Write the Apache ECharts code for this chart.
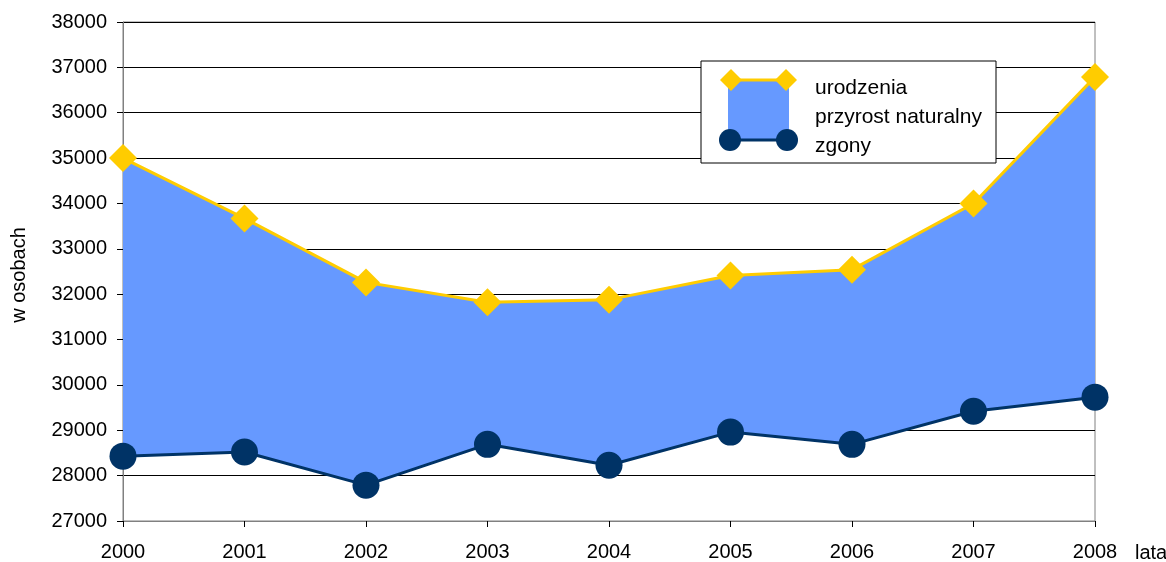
<!DOCTYPE html>
<html>
<head>
<meta charset="utf-8">
<script src="https://cdn.jsdelivr.net/npm/echarts@6/dist/echarts.min.js"></script>
<style>html,body{margin:0;padding:0;background:#fff}#c{width:1166px;height:562px}</style>
</head>
<body>
<div id="c"></div>
<script>
var years = ['2000','2001','2002','2003','2004','2005','2006','2007','2008'];
var urodzenia = [35000, 33670, 32260, 31820, 31880, 32410, 32540, 34000, 36790];
var zgony = [28430, 28520, 27790, 28690, 28230, 28960, 28690, 29420, 29730];
var yTicks = { min: 27000, max: 38000, interval: 1000 };
var names = { births: 'urodzenia', growth: 'przyrost naturalny', deaths: 'zgony', yName: 'w osobach', xName: 'lata' };

var przyrost = urodzenia.map(function (v, i) { return v - zgony[i]; });

var FONT = 'Liberation Sans, Arial, sans-serif';
var chart = echarts.init(document.getElementById('c'), null, { renderer: 'canvas' });

var lx = 701, ly = 61;
chart.setOption({
  animation: false,
  backgroundColor: '#ffffff',
  grid: { left: 123, right: 71, top: 22, bottom: 40, show: true, borderColor: '#808080', borderWidth: 1 },
  xAxis: {
    type: 'category', data: years, boundaryGap: false,
    axisLine: { lineStyle: { color: '#808080', width: 1 } },
    axisTick: { show: true, length: 6, lineStyle: { color: '#000' } },
    axisLabel: { color: '#000', fontSize: 20, fontFamily: FONT, margin: 21 },
    splitLine: { show: false }
  },
  yAxis: {
    type: 'value', min: yTicks.min, max: yTicks.max, interval: yTicks.interval,
    axisLine: { show: true, lineStyle: { color: '#808080', width: 1 } },
    axisTick: { show: true, length: 6, lineStyle: { color: '#000' } },
    axisLabel: { color: '#000', fontSize: 20, fontFamily: FONT, margin: 16, formatter: function (v) { return String(v); } },
    splitLine: { show: true, lineStyle: { color: '#000', width: 1 } }
  },
  series: [
    { type: 'line', stack: 'a', data: zgony, symbol: 'none', lineStyle: { opacity: 0 }, silent: true, z: 1 },
    { name: names.growth, type: 'line', stack: 'a', data: przyrost, symbol: 'none', lineStyle: { opacity: 0 }, areaStyle: { color: '#6699FF', opacity: 1 }, z: 1 },
    { name: names.births, type: 'line', data: urodzenia, symbol: 'diamond', symbolSize: 28, lineStyle: { color: '#FFCC00', width: 3 }, itemStyle: { color: '#FFCC00' }, z: 3 },
    { name: names.deaths, type: 'line', data: zgony, symbol: 'circle', symbolSize: 27, lineStyle: { color: '#003366', width: 3 }, itemStyle: { color: '#003366' }, z: 3 }
  ],
  graphic: [
    { type: 'text', x: 19, y: 275, rotation: Math.PI / 2, style: { text: names.yName, fontSize: 20, fontFamily: FONT, fill: '#000', textAlign: 'center', textVerticalAlign: 'middle' } },
    { type: 'text', x: 1135, y: 553, style: { text: names.xName, fontSize: 20, fontFamily: FONT, fill: '#000', textVerticalAlign: 'middle' } },
    { type: 'rect', shape: { x: lx, y: ly, width: 295, height: 102 }, style: { fill: '#fff', stroke: '#000', lineWidth: 1 }, z: 10 },
    { type: 'rect', shape: { x: lx + 27, y: ly + 18, width: 61, height: 62 }, style: { fill: '#6699FF' }, z: 11 },
    { type: 'line', shape: { x1: lx + 30, y1: ly + 19, x2: lx + 85, y2: ly + 19 }, style: { stroke: '#FFCC00', lineWidth: 3 }, z: 12 },
    { type: 'polygon', shape: { points: [[lx + 30, ly + 8], [lx + 41, ly + 19], [lx + 30, ly + 30], [lx + 19, ly + 19]] }, style: { fill: '#FFCC00' }, z: 12 },
    { type: 'polygon', shape: { points: [[lx + 85, ly + 8], [lx + 96, ly + 19], [lx + 85, ly + 30], [lx + 74, ly + 19]] }, style: { fill: '#FFCC00' }, z: 12 },
    { type: 'line', shape: { x1: lx + 29, y1: ly + 79, x2: lx + 86, y2: ly + 79 }, style: { stroke: '#003366', lineWidth: 3 }, z: 12 },
    { type: 'circle', shape: { cx: lx + 29, cy: ly + 79, r: 11 }, style: { fill: '#003366' }, z: 12 },
    { type: 'circle', shape: { cx: lx + 86, cy: ly + 79, r: 11 }, style: { fill: '#003366' }, z: 12 },
    { type: 'text', x: lx + 114, y: ly + 27, style: { text: names.births, fontSize: 21, fontFamily: FONT, fill: '#000', textVerticalAlign: 'middle' }, z: 12 },
    { type: 'text', x: lx + 114, y: ly + 56, style: { text: names.growth, fontSize: 21, fontFamily: FONT, fill: '#000', textVerticalAlign: 'middle' }, z: 12 },
    { type: 'text', x: lx + 114, y: ly + 85, style: { text: names.deaths, fontSize: 21, fontFamily: FONT, fill: '#000', textVerticalAlign: 'middle' }, z: 12 }
  ]
});
</script>
</body>
</html>
